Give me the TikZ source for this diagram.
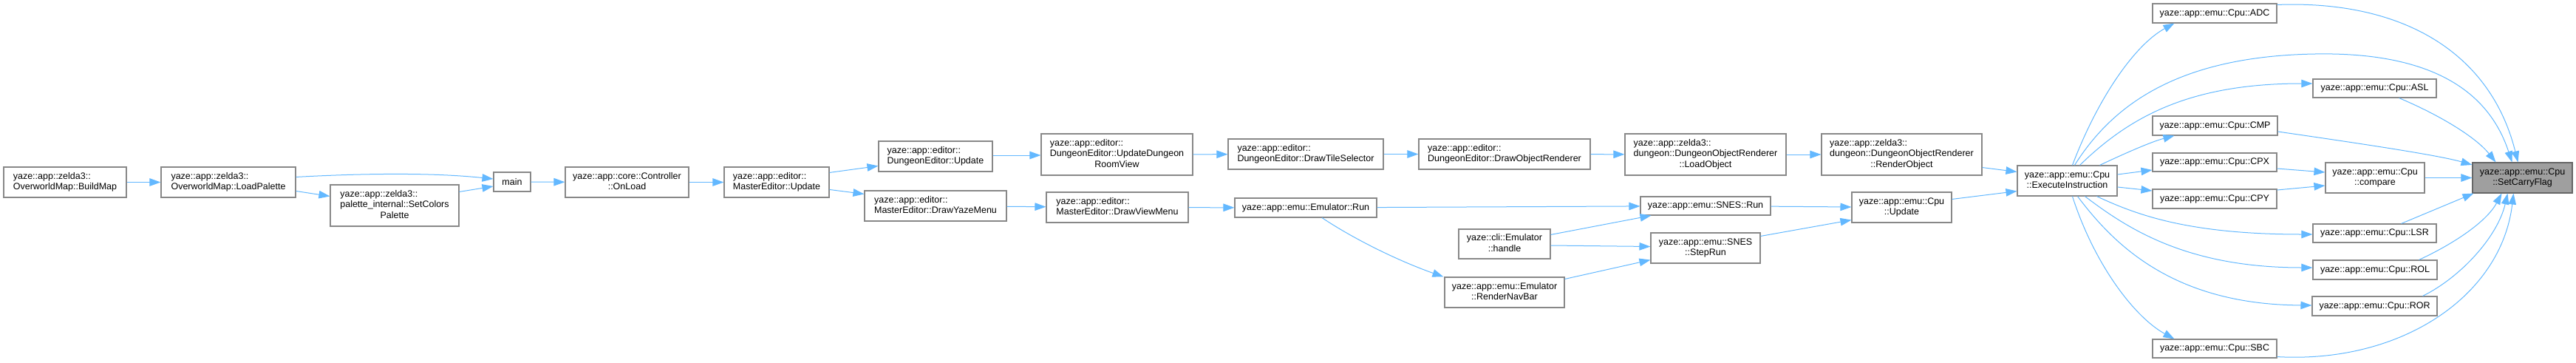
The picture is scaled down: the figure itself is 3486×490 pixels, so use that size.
\documentclass[tikz,border=0pt]{standalone}
\usepackage{fontspec}
\setmainfont{Liberation Sans}
\usetikzlibrary{arrows.meta,calc}
\definecolor{edgec}{HTML}{63B8FF}
\definecolor{boxc}{HTML}{888888}
\definecolor{hlfill}{HTML}{9F9F9F}
\definecolor{hlborder}{HTML}{666666}
\newcommand\Lt[1]{\begin{tabular}{@{}l@{}}#1\end{tabular}}
\newcommand\Ct[1]{\begin{tabular}{@{}c@{}}#1\end{tabular}}
\newcommand\Lc[1]{\multicolumn{1}{@{}c@{}}{#1}}
\newcommand\bx[7][]{\node[box,#1,minimum width={(#5-#3)*1pt},minimum height={(#6-#4)*1pt}] (#2) at ({(#3+#5)/2},{(#4+#6)/2}) {#7};}
\begin{document}
\begin{tikzpicture}[x=1pt,y=-1pt,
  box/.style={draw=boxc, line width=1.1pt, fill=white, inner sep=0pt, text=black,
    font=\fontsize{12.5pt}{14.5pt}\selectfont},
  hl/.style={fill=hlfill, draw=hlborder},
  e/.style={draw=edgec, line width=1pt, -{Triangle[length=15pt,width=10.5pt]}}]
\useasboundingbox (0,0) rectangle (3486,490);
% nodes
\bx{bm}{5}{226}{171}{267}{\Lt{yaze::app::zelda3::\\OverworldMap::BuildMap}}
\bx{lp}{218}{226}{400}{267}{\Lt{yaze::app::zelda3::\\OverworldMap::LoadPalette}}
\bx{scp}{447}{250}{621}{306}{\Lt{yaze::app::zelda3::\\palette\_internal::SetColors\\\Lc{Palette}}}
\bx{main}{668}{233}{718}{259}{main}
\bx{onl}{765}{226}{932}{267}{\Ct{yaze::app::core::Controller\\::OnLoad}}
\bx{meu}{980}{226}{1122}{267}{\Lt{yaze::app::editor::\\MasterEditor::Update}}
\bx{deu}{1189}{191}{1343}{232}{\Lt{yaze::app::editor::\\DungeonEditor::Update}}
\bx{dym}{1170}{258}{1362}{299}{\Lt{yaze::app::editor::\\MasterEditor::DrawYazeMenu}}
\bx{udrv}{1409}{181}{1614}{237}{\Lt{yaze::app::editor::\\DungeonEditor::UpdateDungeon\\\Lc{RoomView}}}
\bx{dvm}{1416}{260}{1608}{301}{\Lt{yaze::app::editor::\\MasterEditor::DrawViewMenu}}
\bx{dts}{1662}{188}{1872}{229}{\Lt{yaze::app::editor::\\DungeonEditor::DrawTileSelector}}
\bx{run}{1671}{268}{1863}{294}{yaze::app::emu::Emulator::Run}
\bx{dor}{1920}{188}{2152}{229}{\Lt{yaze::app::editor::\\DungeonEditor::DrawObjectRenderer}}
\bx{cli}{1974}{310}{2098}{350}{\Ct{yaze::cli::Emulator\\::handle}}
\bx{rnb}{1955}{375}{2117}{416}{\Ct{yaze::app::emu::Emulator\\::RenderNavBar}}
\bx{lo}{2199}{181}{2417}{237}{\Lt{yaze::app::zelda3::\\dungeon::DungeonObjectRenderer\\\Lc{::LoadObject}}}
\bx{sr}{2220}{266}{2396}{291}{yaze::app::emu::SNES::Run}
\bx{str}{2234}{315}{2382}{356}{\Ct{yaze::app::emu::SNES\\::StepRun}}
\bx{ro}{2465}{181}{2682}{237}{\Lt{yaze::app::zelda3::\\dungeon::DungeonObjectRenderer\\\Lc{::RenderObject}}}
\bx{cu}{2506}{260}{2641}{301}{\Ct{yaze::app::emu::Cpu\\::Update}}
\bx{ei}{2730}{224}{2865}{265}{\Ct{yaze::app::emu::Cpu\\::ExecuteInstruction}}
\bx{adc}{2913}{5}{3081}{31}{yaze::app::emu::Cpu::ADC}
\bx{asl}{3130}{107}{3297}{132}{yaze::app::emu::Cpu::ASL}
\bx{cmp}{2913}{157}{3082}{183}{yaze::app::emu::Cpu::CMP}
\bx{cpx}{2913}{207}{3081}{232}{yaze::app::emu::Cpu::CPX}
\bx{cpy}{2913}{256}{3081}{282}{yaze::app::emu::Cpu::CPY}
\bx{cmpr}{3147}{220}{3281}{261}{\Ct{yaze::app::emu::Cpu\\::compare}}
\bx{lsr}{3130}{303}{3297}{328}{yaze::app::emu::Cpu::LSR}
\bx{rol}{3130}{352}{3298}{378}{yaze::app::emu::Cpu::ROL}
\bx{ror}{3129}{401}{3298}{427}{yaze::app::emu::Cpu::ROR}
\bx{sbc}{2913}{459}{3081}{484}{yaze::app::emu::Cpu::SBC}
\bx[hl]{scf}{3346}{220}{3481}{261}{\Ct{yaze::app::emu::Cpu\\::SetCarryFlag}}
% edges left part
\draw[e] (bm) -- (lp);
\draw[e] ($(lp.north east)+(0,14)$) .. controls (520,233) and (600,235) .. ($(main.west)+(0,-4)$);
\draw[e] ($(lp.north east)+(0,33)$) -- ($(scp.north west)+(0,16)$);
\draw[e] ($(scp.north east)+(0,10)$) -- ($(main.west)+(0,6)$);
\draw[e] (main) -- (onl);
\draw[e] (onl) -- (meu);
\draw[e] ($(meu.north east)+(0,8)$) -- ($(deu.north west)+(0,34)$);
\draw[e] ($(meu.north east)+(0,31)$) -- ($(dym.north west)+(0,5)$);
\draw[e] ($(deu.east)+(0,-1.5)$) -- ($(udrv.west)+(0,1)$);
\draw[e] (udrv) -- (dts);
\draw[e] (dts) -- (dor);
\draw[e] (dor) -- (lo);
\draw[e] (lo) -- (ro);
\draw[e] ($(ro.south east)+(0,-11)$) -- ($(ei.north west)+(0,9)$);
\draw[e] (dym) -- (dvm);
\draw[e] (dvm) -- (run);
\draw[e] (run) -- (sr);
\draw[e] ($(run.south)+(22,0)$) .. controls (1830,322) and (1890,352) .. ($(rnb.north west)+(-1,0)$);
\draw[e] ($(cli.north east)+(0,8)$) -- ($(sr.south west)+(15,0)$);
\draw[e] ($(cli.east)+(0,2)$) -- ($(str.west)+(0,-2)$);
\draw[e] ($(rnb.north east)+(0,3)$) -- ($(str.south west)+(0,-5)$);
\draw[e] (sr) -- (cu);
\draw[e] ($(str.north east)+(0,5)$) -- ($(cu.south west)+(0,-4)$);
\draw[e] ($(cu.north east)+(0,10)$) -- ($(ei.south west)+(0,-7)$);
% edges right part
\draw[e] ($(ei.north west)+(75,0)$) .. controls (2840,130) and (2890,60) .. ($(adc.south west)+(30,0)$);
\draw[e] ($(ei.north west)+(78,0)$) .. controls (2860,140) and (2950,76) .. (3133,73) .. controls (3300,70) and (3370,130) .. ($(scf.north west)+(54,0)$);
\draw[e] ($(ei.north west)+(85,0)$) .. controls (2880,160) and (2960,113) .. ($(asl.west)+(0,-6.5)$);
\draw[e] ($(asl.south west)+(117,0)$) .. controls (3300,155) and (3350,185) .. ($(scf.north west)+(32,0)$);
\draw[e] ($(adc.north east)+(0,2)$) .. controls (3250,0) and (3370,70) .. ($(scf.north west)+(62,0)$);
\draw[e] ($(ei.north west)+(112,0)$) .. controls (2870,210) and (2910,192) .. ($(cmp.south west)+(30,0)$);
\draw[e] ($(cmp.east)+(0,8)$) .. controls (3200,195) and (3300,210) .. ($(scf.west)+(0,-17.5)$);
\draw[e] ($(ei.east)+(0,-8.5)$) -- ($(cpx.west)+(0,10.5)$);
\draw[e] ($(ei.east)+(0,8.5)$) -- ($(cpy.west)+(0,-11)$);
\draw[e] ($(cpx.east)+(0,8.5)$) -- ($(cmpr.west)+(0,-7.5)$);
\draw[e] ($(cpy.east)+(0,-12)$) -- ($(cmpr.west)+(0,10.5)$);
\draw[e] (cmpr) -- (scf);
\draw[e] ($(ei.south west)+(108,0)$) .. controls (2890,290) and (2960,317) .. ($(lsr.west)+(0,1.5)$);
\draw[e] ($(ei.south west)+(92,0)$) .. controls (2880,310) and (2960,362) .. ($(rol.west)+(0,-3)$);
\draw[e] ($(ei.south west)+(82,0)$) .. controls (2860,330) and (2940,412) .. ($(ror.west)+(0,-1)$);
\draw[e] ($(ei.south west)+(75,0)$) .. controls (2835,360) and (2890,430) .. ($(sbc.north west)+(30,0)$);
\draw[e] ($(lsr.north west)+(120,0)$) -- ($(scf.south west)+(2,0)$);
\draw[e] ($(rol.north west)+(144,0)$) .. controls (3320,330) and (3365,300) .. ($(scf.south west)+(40,0)$);
\draw[e] ($(ror.north west)+(150,0)$) .. controls (3330,375) and (3380,320) .. ($(scf.south west)+(48,0)$);
\draw[e] ($(sbc.south east)+(0,-2)$) .. controls (3250,492) and (3385,400) .. ($(scf.south west)+(56,0)$);
\end{tikzpicture}
\end{document}
